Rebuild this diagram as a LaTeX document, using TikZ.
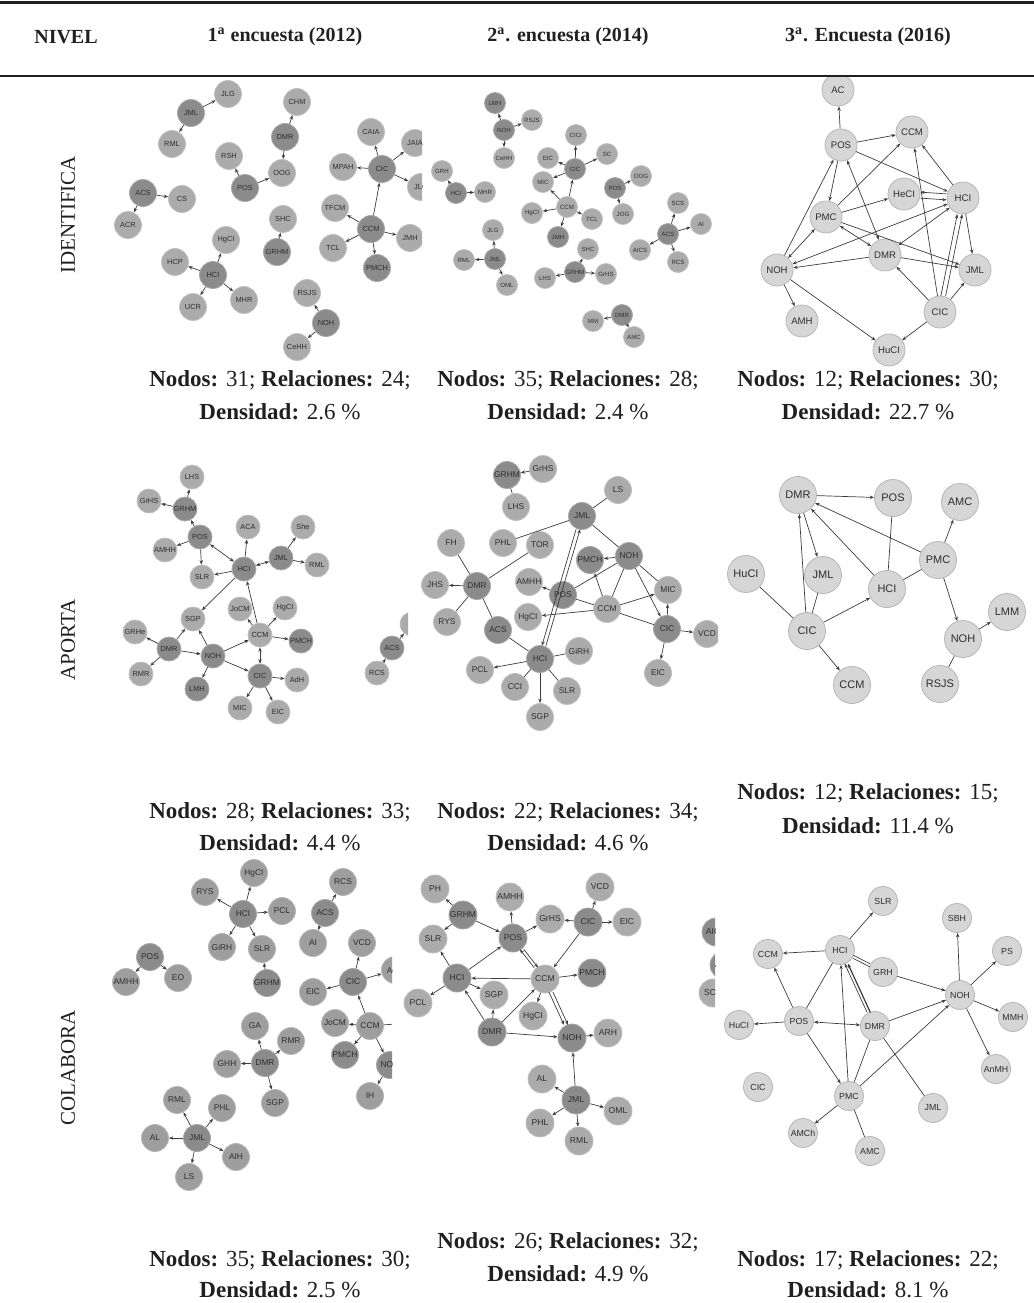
\documentclass[tikz,border=0pt]{standalone}
\usepackage{fontspec}
\setmainfont{Liberation Serif}
\setsansfont{Liberation Sans}
\usetikzlibrary{arrows.meta}
\definecolor{ink}{HTML}{231F20}
\definecolor{nodelt}{HTML}{ABABAB}
\definecolor{nodemd}{HTML}{9E9E9E}
\definecolor{nodedk}{HTML}{8B8B8B}
\definecolor{nodepale}{HTML}{D6D6D6}
\definecolor{nodetext}{HTML}{2E2E2E}
\definecolor{wire}{HTML}{3C3C3C}
\tikzset{
  nd/.style={circle, inner sep=0pt, text=nodetext, line width=0.4pt},
  lt/.style={nd, fill=nodelt, draw=nodelt!75!white},
  md/.style={nd, fill=nodemd, draw=nodemd!75!white},
  dk/.style={nd, fill=nodedk, draw=nodedk!75!white},
  pale/.style={nd, fill=nodepale, draw=nodepale!85!black},
  panel/.style 2 args={every node/.append style={minimum size=#1,
      font=\sffamily\fontsize{#2}{#2}\selectfont}},
  bare/.style={draw=wire, line width=0.35pt},
  link/.style={bare, -{Stealth[length=2.2pt,width=1.7pt]}},
  twoway/.style={bare, {Stealth[length=2.2pt,width=1.7pt]}-{Stealth[length=2.2pt,width=1.7pt]}},
  head/.style={font=\bfseries\fontsize{10}{12}\selectfont, text=ink},
  rowlabel/.style={font=\fontsize{10.5}{12}\selectfont, text=ink, rotate=90},
  caption/.style={font=\fontsize{11.5}{13}\selectfont, text=ink}
}

\begin{document}
\begin{tikzpicture}[x=0.5pt,y=-0.5pt]
  \useasboundingbox (0,0) rectangle (1034,1303);

  % ============================================================
  % Table header
  % ============================================================
  \draw[line width=1.5pt, draw=ink] (0,2) -- (1034,2);
  \draw[line width=0.9pt, draw=ink] (0,76) -- (1034,76);
  \node[head] (h_nivel) at (66,37) {NIVEL};
  \node[head] (h_2012) at (285,37) {1\textsuperscript{a} encuesta (2012)};
  \node[head] (h_2014) at (568,37) {2\textsuperscript{a}. encuesta (2014)};
  \node[head] (h_2016) at (868,37) {3\textsuperscript{a}. Encuesta (2016)};

  \node[rowlabel] (r_ident) at (68,215) {IDENTIFICA};
  \node[rowlabel] (r_aporta) at (68,640) {APORTA};
  \node[rowlabel] (r_colab) at (68,1068) {COLABORA};

  % ============================================================
  % IDENTIFICA -- 2012
  % ============================================================
  \begin{scope}[panel={13.5pt}{3.7}]
    \clip (100,80) rectangle (422,372);
    \node[lt] (ia_jlg) at (228,94) {JLG};
    \node[dk] (ia_jml) at (191,113) {JML};
    \node[lt] (ia_rml) at (172,144) {RML};
    \node[lt] (ia_chm) at (297,102) {CHM};
    \node[dk] (ia_dmr) at (285,137) {DMR};
    \node[lt] (ia_rsh) at (229,156) {RSH};
    \node[lt] (ia_oog) at (282,173) {OOG};
    \node[dk] (ia_pos) at (245,188) {POS};
    \node[dk] (ia_acs) at (143,193) {ACS};
    \node[lt] (ia_cs) at (182,199) {CS};
    \node[lt] (ia_acr) at (128,225) {ACR};
    \node[lt] (ia_hgci) at (226,240) {HgCI};
    \node[lt] (ia_hcp) at (175,262) {HCP};
    \node[dk] (ia_hci) at (213,275) {HCI};
    \node[lt] (ia_ucr) at (193,307) {UCR};
    \node[lt] (ia_mhr) at (244,300) {MHR};
    \node[lt] (ia_shc) at (283,219) {SHC};
    \node[dk] (ia_grhm) at (277,252) {GRHM};
    \node[lt] (ia_rsjs) at (307,293) {RSJS};
    \node[dk] (ia_noh) at (326,323) {NOH};
    \node[lt] (ia_cehh) at (297,347) {CeHH};
    \node[lt] (ia_caia) at (371,132) {CAIA};
    \node[lt] (ia_jaia) at (415,143) {JAIA};
    \node[lt] (ia_mpah) at (343,167) {MPAH};
    \node[dk] (ia_cic) at (382,169) {CIC};
    \node[lt] (ia_jlg2) at (421,187) {JLG};
    \node[lt] (ia_tfcm) at (335,208) {TFCM};
    \node[dk] (ia_ccm) at (371,229) {CCM};
    \node[lt] (ia_tcl) at (333,248) {TCL};
    \node[lt] (ia_jmh) at (410,238) {JMH};
    \node[dk] (ia_pmch) at (377,268) {PMCH};

    \draw[link] (ia_jml) -- (ia_jlg);
    \draw[link] (ia_jml) -- (ia_rml);
    \draw[link] (ia_dmr) -- (ia_chm);
    \draw[link] (ia_dmr) -- (ia_oog);
    \draw[link] (ia_pos) -- (ia_rsh);
    \draw[link] (ia_pos) -- (ia_oog);
    \draw[link] (ia_acs) -- (ia_cs);
    \draw[link] (ia_acs) -- (ia_acr);
    \draw[link] (ia_hci) -- (ia_hgci);
    \draw[link] (ia_hci) -- (ia_hcp);
    \draw[link] (ia_hci) -- (ia_ucr);
    \draw[link] (ia_hci) -- (ia_mhr);
    \draw[link] (ia_grhm) -- (ia_shc);
    \draw[link] (ia_noh) -- (ia_rsjs);
    \draw[link] (ia_noh) -- (ia_cehh);
    \draw[link] (ia_cic) -- (ia_caia);
    \draw[link] (ia_cic) -- (ia_jaia);
    \draw[link] (ia_cic) -- (ia_mpah);
    \draw[link] (ia_cic) -- (ia_jlg2);
    \draw[link] (ia_ccm) -- (ia_cic);
    \draw[link] (ia_ccm) -- (ia_tfcm);
    \draw[link] (ia_ccm) -- (ia_tcl);
    \draw[link] (ia_ccm) -- (ia_jmh);
    \draw[link] (ia_ccm) -- (ia_pmch);
  \end{scope}

  % ============================================================
  % IDENTIFICA -- 2014
  % ============================================================
  \begin{scope}[panel={10.5pt}{3.05}]
    \clip (424,80) rectangle (716,372);
    \node[dk] (ib_lmh) at (495,103) {LMH};
    \node[dk] (ib_noh) at (504,130) {NOH};
    \node[lt] (ib_rsjs) at (532,120) {RSJS};
    \node[lt] (ib_cehh) at (504,158) {CeHH};
    \node[lt] (ib_grh) at (442,171) {GRH};
    \node[dk] (ib_hci) at (456,193) {HCI};
    \node[lt] (ib_mhr) at (485,192) {MHR};
    \node[lt] (ib_cicr) at (576,135) {CICr};
    \node[lt] (ib_eic) at (548,158) {EIC};
    \node[lt] (ib_sc) at (607,154) {SC};
    \node[dk] (ib_cic) at (575,169) {CIC};
    \node[lt] (ib_mic) at (543,182) {MIC};
    \node[dk] (ib_pos) at (615,188) {POS};
    \node[lt] (ib_oog) at (641,176) {OOG};
    \node[lt] (ib_jog) at (623,214) {JOG};
    \node[lt] (ib_ccm) at (567,207) {CCM};
    \node[lt] (ib_hgci) at (532,213) {HgCI};
    \node[lt] (ib_tcl) at (592,219) {TCL};
    \node[dk] (ib_jmh) at (558,237) {JMH};
    \node[lt] (ib_scs) at (678,203) {SCS};
    \node[lt] (ib_ai) at (701,224) {AI};
    \node[dk] (ib_acs) at (668,234) {ACS};
    \node[lt] (ib_aics) at (640,250) {AICS};
    \node[lt] (ib_rcs) at (678,262) {RCS};
    \node[lt] (ib_jlg) at (493,230) {JLG};
    \node[dk] (ib_jml) at (495,259) {JML};
    \node[lt] (ib_rml) at (464,260) {RML};
    \node[lt] (ib_oml) at (507,285) {OML};
    \node[lt] (ib_shc) at (588,249) {SHC};
    \node[dk] (ib_grhm) at (575,272) {GRHM};
    \node[lt] (ib_lhs) at (545,278) {LHS};
    \node[lt] (ib_grhs) at (606,274) {GrHS};
    \node[lt] (ib_mm) at (593,321) {MM};
    \node[dk] (ib_dmr) at (622,315) {DMR};
    \node[lt] (ib_amc) at (634,337) {AMC};

    \draw[link] (ib_noh) -- (ib_lmh);
    \draw[link] (ib_noh) -- (ib_rsjs);
    \draw[link] (ib_noh) -- (ib_cehh);
    \draw[link] (ib_hci) -- (ib_grh);
    \draw[link] (ib_hci) -- (ib_mhr);
    \draw[link] (ib_cic) -- (ib_cicr);
    \draw[link] (ib_cic) -- (ib_eic);
    \draw[link] (ib_cic) -- (ib_sc);
    \draw[link] (ib_cic) -- (ib_mic);
    \draw[link] (ib_ccm) -- (ib_cic);
    \draw[link] (ib_ccm) -- (ib_mic);
    \draw[link] (ib_ccm) -- (ib_hgci);
    \draw[link] (ib_ccm) -- (ib_tcl);
    \draw[link] (ib_ccm) -- (ib_jmh);
    \draw[link] (ib_pos) -- (ib_oog);
    \draw[link] (ib_pos) -- (ib_jog);
    \draw[link] (ib_acs) -- (ib_scs);
    \draw[link] (ib_acs) -- (ib_ai);
    \draw[link] (ib_acs) -- (ib_aics);
    \draw[link] (ib_acs) -- (ib_rcs);
    \draw[link] (ib_jml) -- (ib_jlg);
    \draw[link] (ib_jml) -- (ib_rml);
    \draw[link] (ib_jml) -- (ib_oml);
    \draw[link] (ib_grhm) -- (ib_shc);
    \draw[link] (ib_grhm) -- (ib_lhs);
    \draw[link] (ib_grhm) -- (ib_grhs);
    \draw[link] (ib_dmr) -- (ib_mm);
    \draw[link] (ib_dmr) -- (ib_amc);
  \end{scope}

  % ============================================================
  % IDENTIFICA -- 2016
  % ============================================================
  \begin{scope}[panel={16pt}{4.8}]
    \clip (712,77) rectangle (1034,372);
    \node[pale] (ic_ac) at (838,90) {AC};
    \node[pale] (ic_pos) at (841,145) {POS};
    \node[pale] (ic_ccm) at (912,132) {CCM};
    \node[pale] (ic_heci) at (904,194) {HeCI};
    \node[pale] (ic_hci) at (963,198) {HCI};
    \node[pale] (ic_pmc) at (826,217) {PMC};
    \node[pale] (ic_dmr) at (885,255) {DMR};
    \node[pale] (ic_noh) at (777,270) {NOH};
    \node[pale] (ic_jml) at (975,270) {JML};
    \node[pale] (ic_amh) at (802,321) {AMH};
    \node[pale] (ic_cic) at (940,312) {CIC};
    \node[pale] (ic_huci) at (889,350) {HuCI};

    \draw[link] (ic_pos) -- (ic_ac);
    \draw[link] (ic_pos) -- (ic_ccm);
    \draw[link] (ic_pos) -- (ic_hci);
    \draw[link] (ic_pos) -- (ic_pmc);
    \draw[twoway] (ic_pos) -- (ic_dmr);
    \draw[link] (ic_noh) -- (ic_pos);
    \draw[link] (ic_pmc) -- (ic_ccm);
    \draw[link] (ic_pmc) -- (ic_heci);
    \draw[link, transform canvas={yshift=1.5pt}] (ic_hci) -- (ic_heci);
    \draw[link, transform canvas={yshift=-1.5pt}] (ic_heci) -- (ic_hci);
    \draw[twoway] (ic_pmc) -- (ic_dmr);
    \draw[link] (ic_pmc) -- (ic_jml);
    \draw[twoway] (ic_noh) -- (ic_pmc);
    \draw[twoway] (ic_noh) -- (ic_hci);
    \draw[link] (ic_dmr) -- (ic_noh);
    \draw[twoway] (ic_dmr) -- (ic_hci);
    \draw[link] (ic_dmr) -- (ic_jml);
    \draw[link] (ic_noh) -- (ic_amh);
    \draw[link] (ic_noh) -- (ic_huci);
    \draw[link] (ic_cic) -- (ic_huci);
    \draw[link] (ic_cic) -- (ic_dmr);
    \draw[link] (ic_cic) -- (ic_ccm);
    \draw[link, transform canvas={xshift=-1.2pt}] (ic_cic) -- (ic_hci);
    \draw[link, transform canvas={xshift=1.2pt}] (ic_cic) -- (ic_hci);
    \draw[link] (ic_cic) -- (ic_jml);
    \draw[link] (ic_hci) -- (ic_ccm);
    \draw[link] (ic_hci) -- (ic_jml);
  \end{scope}

  \node[caption] (ia_cap) at (280,380) {\textbf{Nodos:} 31; \textbf{Relaciones:} 24;};
  \node[caption] (ia_den) at (280,412) {\textbf{Densidad:} 2.6 \%};
  \node[caption] (ib_cap) at (568,380) {\textbf{Nodos:} 35; \textbf{Relaciones:} 28;};
  \node[caption] (ib_den) at (568,412) {\textbf{Densidad:} 2.4 \%};
  \node[caption] (ic_cap) at (868,380) {\textbf{Nodos:} 12; \textbf{Relaciones:} 30;};
  \node[caption] (ic_den) at (868,412) {\textbf{Densidad:} 22.7 \%};

  % ============================================================
  % APORTA -- 2012   (row drawn 28 px higher than its zoom grid)
  % ============================================================
  \begin{scope}[panel={12pt}{3.7}, shift={(0,-28)}]
    \clip (100,460) rectangle (408,792);
    \node[lt] (aa_lhs) at (192,505) {LHS};
    \node[lt] (aa_grhs) at (149,529) {GrHS};
    \node[dk] (aa_grhm) at (185,537) {GRHM};
    \node[dk] (aa_pos) at (200,565) {POS};
    \node[lt] (aa_amhh) at (165,578) {AMHH};
    \node[lt] (aa_slr) at (202,605) {SLR};
    \node[lt] (aa_aca) at (248,555) {ACA};
    \node[dk] (aa_hci) at (244,597) {HCI};
    \node[lt] (aa_she) at (303,555) {She};
    \node[dk] (aa_jml) at (281,586) {JML};
    \node[lt] (aa_rml) at (317,593) {RML};
    \node[lt] (aa_sgp) at (193,647) {SGP};
    \node[lt] (aa_jocm) at (240,637) {JoCM};
    \node[lt] (aa_hgci) at (285,636) {HgCI};
    \node[lt] (aa_ccm) at (260,663) {CCM};
    \node[dk] (aa_pmch) at (301,669) {PMCH};
    \node[lt] (aa_grhe) at (135,660) {GRHe};
    \node[dk] (aa_dmr) at (169,677) {DMR};
    \node[lt] (aa_rmr) at (141,702) {RMR};
    \node[dk] (aa_noh) at (213,684) {NOH};
    \node[dk] (aa_lmh) at (197,717) {LMH};
    \node[dk] (aa_cic) at (260,704) {CIC};
    \node[lt] (aa_adh) at (297,708) {AdH};
    \node[lt] (aa_mic) at (240,736) {MIC};
    \node[lt] (aa_eic) at (278,740) {EIC};
    \node[lt] (aa_cut) at (412,652) {};
    \node[dk] (aa_acs) at (392,676) {ACS};
    \node[lt] (aa_rcs) at (377,701) {RCS};

    \draw[link] (aa_grhm) -- (aa_lhs);
    \draw[link] (aa_grhm) -- (aa_grhs);
    \draw[link] (aa_pos) -- (aa_grhm);
    \draw[link] (aa_pos) -- (aa_amhh);
    \draw[link] (aa_pos) -- (aa_slr);
    \draw[twoway] (aa_pos) -- (aa_hci);
    \draw[link] (aa_hci) -- (aa_slr);
    \draw[link] (aa_hci) -- (aa_aca);
    \draw[twoway] (aa_hci) -- (aa_jml);
    \draw[link] (aa_jml) -- (aa_she);
    \draw[link] (aa_jml) -- (aa_rml);
    \draw[link] (aa_hci) -- (aa_sgp);
    \draw[link] (aa_ccm) -- (aa_hci);
    \draw[link] (aa_ccm) -- (aa_jocm);
    \draw[link] (aa_ccm) -- (aa_hgci);
    \draw[link] (aa_ccm) -- (aa_pmch);
    \draw[twoway] (aa_ccm) -- (aa_cic);
    \draw[link] (aa_noh) -- (aa_ccm);
    \draw[link] (aa_noh) -- (aa_sgp);
    \draw[link] (aa_dmr) -- (aa_sgp);
    \draw[link] (aa_dmr) -- (aa_grhe);
    \draw[link] (aa_dmr) -- (aa_rmr);
    \draw[link] (aa_dmr) -- (aa_noh);
    \draw[link] (aa_noh) -- (aa_lmh);
    \draw[link] (aa_noh) -- (aa_cic);
    \draw[link] (aa_cic) -- (aa_adh);
    \draw[link] (aa_cic) -- (aa_mic);
    \draw[link] (aa_cic) -- (aa_eic);
    \draw[link] (aa_acs) -- (aa_cut);
    \draw[link] (aa_rcs) -- (aa_acs);
  \end{scope}

  % ============================================================
  % APORTA -- 2014
  % ============================================================
  \begin{scope}[panel={13.5pt}{4.2}, shift={(0,-28)}]
    \clip (409,460) rectangle (718,792);
    \node[dk] (ab_grhm) at (507,503) {GRHM};
    \node[lt] (ab_grhs) at (543,497) {GrHS};
    \node[lt] (ab_lhs) at (516,535) {LHS};
    \node[lt] (ab_ls) at (618,518) {LS};
    \node[dk] (ab_jml) at (582,544) {JML};
    \node[lt] (ab_fh) at (451,571) {FH};
    \node[lt] (ab_phl) at (503,571) {PHL};
    \node[lt] (ab_tor) at (540,573) {TOR};
    \node[lt] (ab_jhs) at (435,613) {JHS};
    \node[dk] (ab_dmr) at (477,614) {DMR};
    \node[lt] (ab_rys) at (447,650) {RYS};
    \node[lt] (ab_amhh) at (529,610) {AMHH};
    \node[dk] (ab_pos) at (563,623) {POS};
    \node[dk] (ab_pmch) at (590,588) {PMCH};
    \node[dk] (ab_noh) at (629,584) {NOH};
    \node[lt] (ab_mic) at (668,618) {MIC};
    \node[lt] (ab_ccm) at (607,637) {CCM};
    \node[lt] (ab_hgci) at (528,645) {HgCI};
    \node[dk] (ab_cic) at (667,657) {CIC};
    \node[lt] (ab_vcd) at (707,662) {VCD};
    \node[dk] (ab_acs) at (498,658) {ACS};
    \node[dk] (ab_hci) at (540,687) {HCI};
    \node[lt] (ab_girh) at (579,679) {GiRH};
    \node[lt] (ab_pcl) at (480,698) {PCL};
    \node[lt] (ab_cci) at (515,715) {CCI};
    \node[lt] (ab_slr) at (567,719) {SLR};
    \node[lt] (ab_sgp) at (540,745) {SGP};
    \node[lt] (ab_eic) at (658,701) {EIC};

    \draw[link] (ab_grhs) -- (ab_grhm);
    \draw[bare] (ab_grhm) -- (ab_lhs);
    \draw[bare] (ab_jml) -- (ab_ls);
    \draw[bare] (ab_jml) -- (ab_phl);
    \draw[bare] (ab_jml) -- (ab_noh);
    \draw[link, transform canvas={xshift=-1pt}] (ab_jml) -- (ab_hci);
    \draw[link, transform canvas={xshift=1pt}] (ab_hci) -- (ab_jml);
    \draw[bare] (ab_dmr) -- (ab_fh);
    \draw[link] (ab_dmr) -- (ab_jhs);
    \draw[bare] (ab_dmr) -- (ab_rys);
    \draw[bare] (ab_dmr) -- (ab_tor);
    \draw[bare] (ab_dmr) -- (ab_acs);
    \draw[bare] (ab_acs) -- (ab_hci);
    \draw[link] (ab_pos) -- (ab_amhh);
    \draw[bare] (ab_pos) -- (ab_noh);
    \draw[bare] (ab_pos) -- (ab_ccm);
    \draw[link] (ab_noh) -- (ab_pmch);
    \draw[link] (ab_ccm) -- (ab_pmch);
    \draw[bare] (ab_ccm) -- (ab_noh);
    \draw[bare] (ab_noh) -- (ab_mic);
    \draw[link] (ab_noh) -- (ab_cic);
    \draw[link] (ab_ccm) -- (ab_mic);
    \draw[link] (ab_ccm) -- (ab_hgci);
    \draw[bare] (ab_ccm) -- (ab_cic);
    \draw[link] (ab_cic) -- (ab_mic);
    \draw[link] (ab_cic) -- (ab_vcd);
    \draw[link] (ab_cic) -- (ab_eic);
    \draw[bare] (ab_hci) -- (ab_girh);
    \draw[link] (ab_hci) -- (ab_pcl);
    \draw[bare] (ab_hci) -- (ab_cci);
    \draw[bare] (ab_hci) -- (ab_slr);
    \draw[link] (ab_hci) -- (ab_sgp);
  \end{scope}

  % ============================================================
  % APORTA -- 2016
  % ============================================================
  \begin{scope}[panel={18.5pt}{5.5}, shift={(0,-28)}]
    \clip (718,460) rectangle (1034,792);
    \node[pale] (ac_dmr) at (798,523) {DMR};
    \node[pale] (ac_pos) at (893,526) {POS};
    \node[pale] (ac_amc) at (960,530) {AMC};
    \node[pale] (ac_pmc) at (938,588) {PMC};
    \node[pale] (ac_huci) at (746,602) {HuCI};
    \node[pale] (ac_jml) at (823,603) {JML};
    \node[pale] (ac_hci) at (887,617) {HCI};
    \node[pale] (ac_cic) at (807,659) {CIC};
    \node[pale] (ac_lmm) at (1007,640) {LMM};
    \node[pale] (ac_noh) at (963,667) {NOH};
    \node[pale] (ac_ccm) at (852,713) {CCM};
    \node[pale] (ac_rsjs) at (940,712) {RSJS};

    \draw[link] (ac_dmr) -- (ac_pos);
    \draw[link] (ac_dmr) -- (ac_jml);
    \draw[link] (ac_hci) -- (ac_dmr);
    \draw[link] (ac_pmc) -- (ac_dmr);
    \draw[bare] (ac_pos) -- (ac_hci);
    \draw[link] (ac_pmc) -- (ac_amc);
    \draw[bare] (ac_pmc) -- (ac_hci);
    \draw[link] (ac_pmc) -- (ac_noh);
    \draw[link] (ac_cic) -- (ac_dmr);
    \draw[bare] (ac_cic) -- (ac_jml);
    \draw[link] (ac_cic) -- (ac_hci);
    \draw[bare] (ac_cic) -- (ac_huci);
    \draw[link] (ac_cic) -- (ac_ccm);
    \draw[link] (ac_noh) -- (ac_lmm);
    \draw[bare] (ac_noh) -- (ac_rsjs);
  \end{scope}

  \node[caption] (aa_cap) at (280,812) {\textbf{Nodos:} 28; \textbf{Relaciones:} 33;};
  \node[caption] (aa_den) at (280,843) {\textbf{Densidad:} 4.4 \%};
  \node[caption] (ab_cap) at (568,812) {\textbf{Nodos:} 22; \textbf{Relaciones:} 34;};
  \node[caption] (ab_den) at (568,843) {\textbf{Densidad:} 4.6 \%};
  \node[caption] (ac_cap) at (868,793) {\textbf{Nodos:} 12; \textbf{Relaciones:} 15;};
  \node[caption] (ac_den) at (868,826) {\textbf{Densidad:} 11.4 \%};

  % ============================================================
  % COLABORA -- 2012   (row drawn 30 px higher than its zoom grid)
  % ============================================================
  \begin{scope}[panel={13.5pt}{4.2}, shift={(0,-30)}]
    \clip (100,870) rectangle (392,1225);
    \node[md] (ca_hgci) at (254,903) {HgCI};
    \node[md] (ca_rys) at (205,922) {RYS};
    \node[dk] (ca_hci) at (243,944) {HCI};
    \node[md] (ca_pcl) at (282,941) {PCL};
    \node[md] (ca_girh) at (222,977) {GiRH};
    \node[md] (ca_slr) at (262,979) {SLR};
    \node[dk] (ca_grhm) at (267,1013) {GRHM};
    \node[md] (ca_rcs) at (343,912) {RCS};
    \node[dk] (ca_acs) at (325,943) {ACS};
    \node[md] (ca_ai) at (313,973) {AI};
    \node[md] (ca_vcd) at (362,973) {VCD};
    \node[dk] (ca_cic) at (353,1012) {CIC};
    \node[md] (ca_adh) at (395,1000) {AdH};
    \node[md] (ca_eic) at (313,1022) {EIC};
    \node[dk] (ca_pos) at (150,987) {POS};
    \node[md] (ca_amhh) at (126,1012) {AMHH};
    \node[md] (ca_eo) at (178,1008) {EO};
    \node[md] (ca_jocm) at (335,1053) {JoCM};
    \node[md] (ca_ccm) at (370,1056) {CCM};
    \node[dk] (ca_pmch) at (345,1085) {PMCH};
    \node[dk] (ca_noh) at (390,1095) {NOH};
    \node[md] (ca_ih) at (370,1126) {IH};
    \node[md] (ca_ga) at (255,1056) {GA};
    \node[md] (ca_rmr) at (291,1071) {RMR};
    \node[md] (ca_ghh) at (227,1094) {GHH};
    \node[dk] (ca_dmr) at (265,1093) {DMR};
    \node[md] (ca_sgp) at (275,1133) {SGP};
    \node[md] (ca_rml) at (177,1130) {RML};
    \node[md] (ca_phl) at (222,1138) {PHL};
    \node[md] (ca_al) at (155,1168) {AL};
    \node[dk] (ca_jml) at (197,1168) {JML};
    \node[md] (ca_aih) at (236,1187) {AIH};
    \node[md] (ca_ls) at (189,1207) {LS};
    \coordinate (ca_off) at (420,1052);

    \draw[link] (ca_hci) -- (ca_hgci);
    \draw[link] (ca_hci) -- (ca_rys);
    \draw[link] (ca_hci) -- (ca_pcl);
    \draw[link] (ca_hci) -- (ca_girh);
    \draw[link] (ca_hci) -- (ca_slr);
    \draw[link] (ca_grhm) -- (ca_slr);
    \draw[link] (ca_acs) -- (ca_rcs);
    \draw[link] (ca_acs) -- (ca_ai);
    \draw[link] (ca_cic) -- (ca_vcd);
    \draw[link] (ca_cic) -- (ca_adh);
    \draw[link] (ca_cic) -- (ca_eic);
    \draw[link] (ca_ccm) -- (ca_cic);
    \draw[link] (ca_ccm) -- (ca_jocm);
    \draw[link] (ca_ccm) -- (ca_pmch);
    \draw[link] (ca_ccm) -- (ca_noh);
    \draw[bare] (ca_ccm) -- (ca_off);
    \draw[link] (ca_noh) -- (ca_ih);
    \draw[link] (ca_pos) -- (ca_amhh);
    \draw[link] (ca_pos) -- (ca_eo);
    \draw[link] (ca_dmr) -- (ca_ga);
    \draw[link] (ca_dmr) -- (ca_rmr);
    \draw[link] (ca_dmr) -- (ca_ghh);
    \draw[link] (ca_dmr) -- (ca_sgp);
    \draw[link] (ca_jml) -- (ca_rml);
    \draw[link] (ca_jml) -- (ca_phl);
    \draw[link] (ca_jml) -- (ca_al);
    \draw[link] (ca_jml) -- (ca_aih);
    \draw[link] (ca_jml) -- (ca_ls);
  \end{scope}

  % ============================================================
  % COLABORA -- 2014
  % ============================================================
  \begin{scope}[panel={14pt}{4.3}, shift={(0,-30)}]
    \clip (400,870) rectangle (715,1225);
    \node[lt] (cb_ph) at (435,919) {PH};
    \node[dk] (cb_grhm) at (463,945) {GRHM};
    \node[lt] (cb_amhh) at (510,927) {AMHH};
    \node[lt] (cb_vcd) at (600,917) {VCD};
    \node[lt] (cb_slr) at (433,969) {SLR};
    \node[dk] (cb_pos) at (513,968) {POS};
    \node[lt] (cb_grhs) at (550,949) {GrHS};
    \node[dk] (cb_cic) at (588,952) {CIC};
    \node[lt] (cb_eic) at (627,952) {EIC};
    \node[dk] (cb_hci) at (457,1008) {HCI};
    \node[lt] (cb_ccm) at (545,1009) {CCM};
    \node[dk] (cb_pmch) at (592,1003) {PMCH};
    \node[lt] (cb_pcl) at (418,1033) {PCL};
    \node[lt] (cb_sgp) at (494,1025) {SGP};
    \node[lt] (cb_hgci) at (533,1046) {HgCI};
    \node[dk] (cb_dmr) at (492,1062) {DMR};
    \node[dk] (cb_noh) at (572,1068) {NOH};
    \node[lt] (cb_arh) at (608,1063) {ARH};
    \node[lt] (cb_al) at (542,1109) {AL};
    \node[dk] (cb_jml) at (576,1130) {JML};
    \node[lt] (cb_oml) at (618,1141) {OML};
    \node[lt] (cb_phl) at (540,1153) {PHL};
    \node[lt] (cb_rml) at (579,1171) {RML};
    \node[dk] (cb_aics) at (716,962) {AICS};
    \node[dk] (cb_acs) at (724,995) {ACS};
    \node[lt] (cb_scs) at (713,1023) {SCS};

    \draw[link] (cb_grhm) -- (cb_ph);
    \draw[link] (cb_grhm) -- (cb_slr);
    \draw[link] (cb_grhm) -- (cb_pos);
    \draw[link] (cb_pos) -- (cb_amhh);
    \draw[link] (cb_pos) -- (cb_grhs);
    \draw[link] (cb_cic) -- (cb_grhs);
    \draw[link] (cb_cic) -- (cb_vcd);
    \draw[link] (cb_cic) -- (cb_eic);
    \draw[link] (cb_cic) -- (cb_ccm);
    \draw[link] (cb_hci) -- (cb_slr);
    \draw[link] (cb_hci) -- (cb_pos);
    \draw[link] (cb_hci) -- (cb_pcl);
    \draw[link] (cb_ccm) -- (cb_hci);
    \draw[link] (cb_ccm) -- (cb_pmch);
    \draw[link, transform canvas={xshift=-1pt}] (cb_ccm) -- (cb_pos);
    \draw[link, transform canvas={xshift=1pt}] (cb_pos) -- (cb_ccm);
    \draw[link] (cb_ccm) -- (cb_hgci);
    \draw[link, transform canvas={xshift=-1pt}] (cb_ccm) -- (cb_noh);
    \draw[link, transform canvas={xshift=1pt}] (cb_ccm) -- (cb_noh);
    \draw[link] (cb_hci) -- (cb_sgp);
    \draw[link] (cb_dmr) -- (cb_sgp);
    \draw[link] (cb_dmr) -- (cb_hci);
    \draw[link] (cb_dmr) -- (cb_ccm);
    \draw[link] (cb_dmr) -- (cb_noh);
    \draw[link] (cb_noh) -- (cb_arh);
    \draw[link] (cb_jml) -- (cb_noh);
    \draw[link] (cb_jml) -- (cb_al);
    \draw[link] (cb_jml) -- (cb_oml);
    \draw[link] (cb_jml) -- (cb_phl);
    \draw[link] (cb_jml) -- (cb_rml);
  \end{scope}

  % ============================================================
  % COLABORA -- 2016
  % ============================================================
  \begin{scope}[panel={14.5pt}{4.4}, shift={(0,-30)}]
    \clip (715,870) rectangle (1034,1225);
    \node[pale] (cc_slr) at (883,931) {SLR};
    \node[pale] (cc_sbh) at (957,948) {SBH};
    \node[pale] (cc_hci) at (840,980) {HCI};
    \node[pale] (cc_ccm) at (768,984) {CCM};
    \node[pale] (cc_ps) at (1007,981) {PS};
    \node[pale] (cc_grh) at (883,1002) {GRH};
    \node[pale] (cc_noh) at (960,1025) {NOH};
    \node[pale] (cc_mmh) at (1013,1047) {MMH};
    \node[pale] (cc_huci) at (739,1055) {HuCI};
    \node[pale] (cc_pos) at (799,1051) {POS};
    \node[pale] (cc_dmr) at (875,1056) {DMR};
    \node[pale] (cc_anmh) at (996,1099) {AnMH};
    \node[pale] (cc_cic) at (758,1117) {CIC};
    \node[pale] (cc_pmc) at (849,1126) {PMC};
    \node[pale] (cc_jml) at (933,1138) {JML};
    \node[pale] (cc_amch) at (803,1163) {AMCh};
    \node[pale] (cc_amc) at (870,1181) {AMC};

    \draw[link] (cc_hci) -- (cc_slr);
    \draw[link] (cc_hci) -- (cc_ccm);
    \draw[bare, transform canvas={yshift=0.8pt}] (cc_hci) -- (cc_grh);
    \draw[bare, transform canvas={yshift=-0.8pt}] (cc_hci) -- (cc_grh);
    \draw[link] (cc_grh) -- (cc_noh);
    \draw[link] (cc_noh) -- (cc_sbh);
    \draw[link] (cc_noh) -- (cc_ps);
    \draw[link] (cc_noh) -- (cc_mmh);
    \draw[link] (cc_noh) -- (cc_anmh);
    \draw[link] (cc_pos) -- (cc_ccm);
    \draw[bare] (cc_pos) -- (cc_hci);
    \draw[link] (cc_pos) -- (cc_huci);
    \draw[twoway] (cc_pos) -- (cc_dmr);
    \draw[link, line width=0.6pt, transform canvas={xshift=0.8pt}] (cc_dmr) -- (cc_hci);
    \draw[link, transform canvas={xshift=-0.8pt}] (cc_dmr) -- (cc_hci);
    \draw[link] (cc_dmr) -- (cc_noh);
    \draw[bare] (cc_dmr) -- (cc_jml);
    \draw[link] (cc_pos) -- (cc_pmc);
    \draw[link] (cc_pmc) -- (cc_hci);
    \draw[bare] (cc_pmc) -- (cc_dmr);
    \draw[link] (cc_pmc) -- (cc_noh);
    \draw[link] (cc_pmc) -- (cc_amch);
    \draw[bare] (cc_pmc) -- (cc_amc);
  \end{scope}

  \node[caption] (ca_cap) at (280,1260) {\textbf{Nodos:} 35; \textbf{Relaciones:} 30;};
  \node[caption] (ca_den) at (280,1290) {\textbf{Densidad:} 2.5 \%};
  \node[caption] (cb_cap) at (568,1242) {\textbf{Nodos:} 26; \textbf{Relaciones:} 32;};
  \node[caption] (cb_den) at (568,1274) {\textbf{Densidad:} 4.9 \%};
  \node[caption] (cc_cap) at (868,1260) {\textbf{Nodos:} 17; \textbf{Relaciones:} 22;};
  \node[caption] (cc_den) at (868,1290) {\textbf{Densidad:} 8.1 \%};

\end{tikzpicture}
\end{document}
